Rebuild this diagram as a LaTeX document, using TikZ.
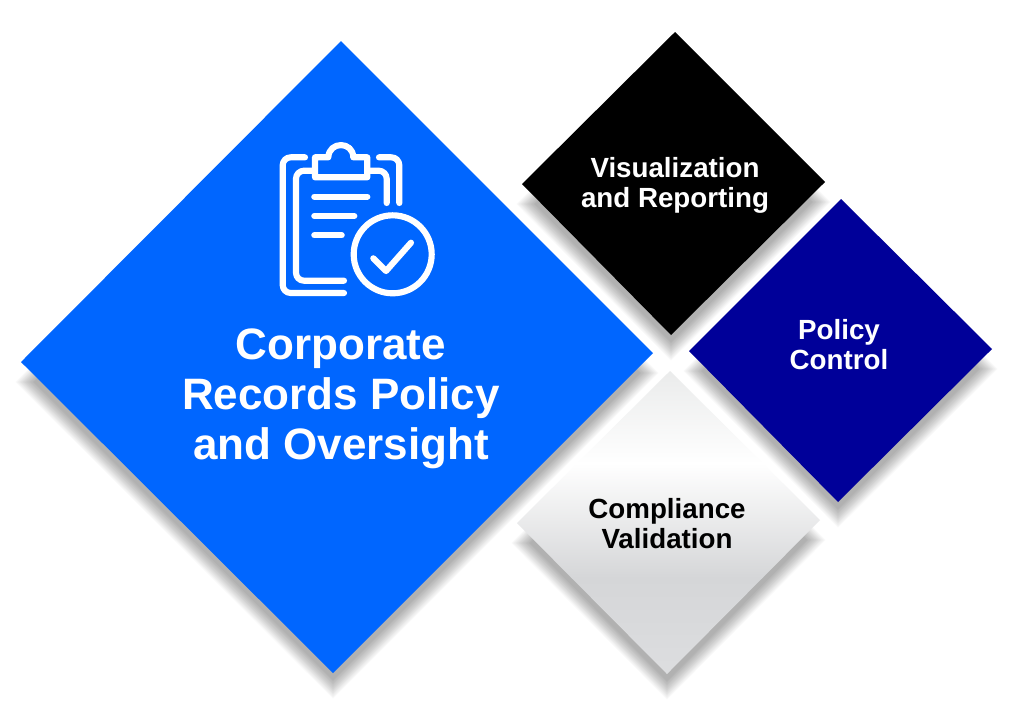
\documentclass[tikz,border=0pt]{standalone}
\usepackage{fontspec}
\setmainfont{Liberation Sans}
\definecolor{blueD}{HTML}{0066FF}
\definecolor{navyD}{HTML}{000099}
\definecolor{grayA}{HTML}{EAEBEB}
\definecolor{grayB}{HTML}{D5D6D8}
\definecolor{grayC}{HTML}{DDDEE0}
\newcommand{\dshadow}[8]{%
  \foreach \d in {-9,-8,...,4}{
    \fill[black,fill opacity=0.025]
      (#1,{#2-1.414*\d+20}) -- ({#3-1.414*\d},{#4+20}) --
      (#5,{#6+1.414*\d+20}) -- ({#7+1.414*\d},{#8+20}) -- cycle;
  }}
\tikzset{
  icon/.style={draw=white,line width=4.6pt,line cap=round,line join=round,rounded corners=6pt},
  bigtext/.style={text=white,align=center,font=\fontsize{33}{37.5}\selectfont\bfseries},
  smalltext/.style={align=center,font=\fontsize{20.8}{22.5}\selectfont\bfseries}
}
\begin{document}
\begin{tikzpicture}[x=0.75pt,y=-0.75pt]
\useasboundingbox (0,0) rectangle (1017,719);
\fill[white] (0,0) rectangle (1017,719);
% shadows
\dshadow{341}{41}{21}{362}{333}{673}{653}{353}
\dshadow{841}{199}{689}{351}{838}{502}{992}{349}
\dshadow{675}{32}{522}{184}{671}{335}{825}{182}
\dshadow{670}{371}{517}{523}{667}{674}{820}{520}
% diamonds
\fill[blueD] (341,41) -- (21,362) -- (333,673) -- (653,353) -- cycle;
\fill[navyD] (841,199) -- (689,351) -- (838,502) -- (992,349) -- cycle;
\fill[black] (675,32) -- (522,184) -- (671,335) -- (825,182) -- cycle;
\begin{scope}
\clip (670,371) -- (517,523) -- (667,674) -- (820,520) -- cycle;
\shade[top color=grayA,bottom color=white] (510,370) rectangle (830,464);
\shade[top color=white,bottom color=grayB] (510,463) rectangle (830,578);
\shade[top color=grayB,bottom color=grayC] (510,577) rectangle (830,680);
\end{scope}
% icon
\draw[icon] (305,157.3) -- (282.7,157.3) -- (282.7,293) -- (344,293);
\draw[icon] (379,157.3) -- (399.3,157.3) -- (399.3,203);
\draw[icon] (313,170.7) -- (296,170.7) -- (296,280.7) -- (344,280.7);
\draw[icon] (368,170.7) -- (386.7,170.7) -- (386.7,203);
\draw[draw=white,line width=4.6pt,line cap=round,line join=round]
  (315,177.3) -- (315,157.3) -- (328.3,157.3) .. controls (329,141) and (353,141) .. (353.3,157.3)
  -- (367.3,157.3) -- (367.3,177.3) -- cycle;
\draw[icon] (314.3,196.7) -- (367.3,196.7);
\draw[icon] (314.3,216) -- (354.3,216);
\draw[icon] (314.3,235.3) -- (341.7,235.3);
\draw[draw=white,line width=4.6pt] (392.7,254.3) circle (39);
\draw[draw=white,line width=4.6pt,line cap=round,line join=round] (373.3,258.3) -- (386,271) -- (411,242.7);
% text
\node[bigtext] (main) at (341,399) {Corporate\\Records Policy\\and Oversight};
\node[smalltext,text=white] (vis) at (675,185) {Visualization\\and Reporting};
\node[smalltext,text=white] (pol) at (839,345) {Policy\\Control};
\node[smalltext,text=black] (com) at (667,524) {Compliance\\Validation};
\end{tikzpicture}
\end{document}
